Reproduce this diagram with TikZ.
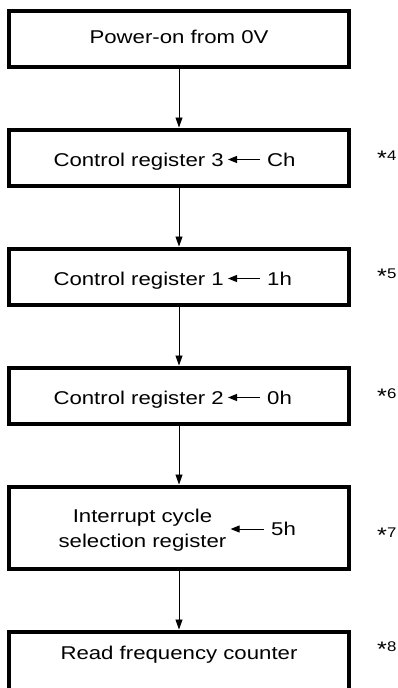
\documentclass[tikz,border=0pt]{standalone}
\usepackage{fontspec}
\setmainfont{Liberation Sans}[FakeStretch=1.2]
\usetikzlibrary{arrows.meta, positioning}
\tikzset{
  box/.style={rectangle, draw, line width=4pt, minimum width=340pt, minimum height=56pt, inner sep=0pt},
  txt/.style={inner sep=0pt, text height=17pt, text depth=4pt, font=\fontsize{18.5}{25}\selectfont},
  lines/.style={inner sep=0pt, align=center, font=\fontsize{18.5}{25}\selectfont},
  note/.style={inner sep=0pt, text height=10pt, text depth=0pt, font=\fontsize{14}{16}\selectfont},
  flow/.style={-{Triangle[length=10pt, width=7pt]}, line width=0.9pt},
  load/.style={-{Triangle[length=9pt, width=7pt]}, line width=0.9pt, shorten <=7pt, shorten >=4pt},
}
\newcommand{\noteref}[1]{\raisebox{-5pt}{\scalebox{1.5}{*}}#1}

\begin{document}
\begin{tikzpicture}[node distance=59pt]
    \useasboundingbox (0,0) rectangle (398pt,-688pt);
    % boxes
    \node[box] (pwr) at (179pt,-38.5pt) {};
    \node[box, below=of pwr] (cr3) {};
    \node[box, below=of cr3] (cr1) {};
    \node[box, below=of cr1] (cr2) {};
    \node[box, below=of cr2, minimum height=82pt] (ics) {};
    \node[box, below=of ics, minimum height=70pt] (rfc) {};
    \draw[flow] (pwr) -- (cr3);
    \draw[flow] (cr3) -- (cr1);
    \draw[flow] (cr1) -- (cr2);
    \draw[flow] (cr2) -- (ics);
    \draw[flow] (ics) -- (rfc);
    % texts
    \node[txt] (pwrtxt) at ([yshift=1.8pt]pwr.center) {Power-on from 0V};
    \node[txt, anchor=east] (cr3txt) at ([xshift=45pt, yshift=-2pt]cr3.center) {Control register 3};
    \node[txt, anchor=west] (cr3val) at ([xshift=88pt, yshift=-2pt]cr3.center) {Ch};
    \draw[load] (cr3val.west) -- (cr3txt.east);
    \node[txt, anchor=east] (cr1txt) at ([xshift=45pt, yshift=-2pt]cr1.center) {Control register 1};
    \node[txt, anchor=west] (cr1val) at ([xshift=88pt, yshift=-2pt]cr1.center) {1h};
    \draw[load] (cr1val.west) -- (cr1txt.east);
    \node[txt, anchor=east] (cr2txt) at ([xshift=45pt, yshift=-2pt]cr2.center) {Control register 2};
    \node[txt, anchor=west] (cr2val) at ([xshift=88pt, yshift=-2pt]cr2.center) {0h};
    \draw[load] (cr2val.west) -- (cr2txt.east);
    \node[lines] (icstxt) at ([xshift=-36.5pt, yshift=-3pt]ics.center) {Interrupt cycle\\selection register};
    \node[txt, anchor=west] (icsval) at ([xshift=92pt, yshift=-1.5pt]ics.center) {5h};
    \draw[load] (icsval.west) -- (icsval.west -| icstxt.east);
    \node[txt] (rfctxt) at ([yshift=13.5pt]rfc.center) {Read frequency counter};
    % notes
    \node[note, right=26pt of cr3.east, yshift=2.5pt] (n4) {\noteref{4}};
    \node[note, right=26pt of cr1.east, yshift=3.5pt] (n5) {\noteref{5}};
    \node[note, right=26pt of cr2.east, yshift=2.5pt] (n6) {\noteref{6}};
    \node[note, right=26pt of ics.east, yshift=-4.5pt] (n7) {\noteref{7}};
    \node[note, right=26pt of rfc.east, yshift=20.5pt] (n8) {\noteref{8}};
\end{tikzpicture}
\end{document}
